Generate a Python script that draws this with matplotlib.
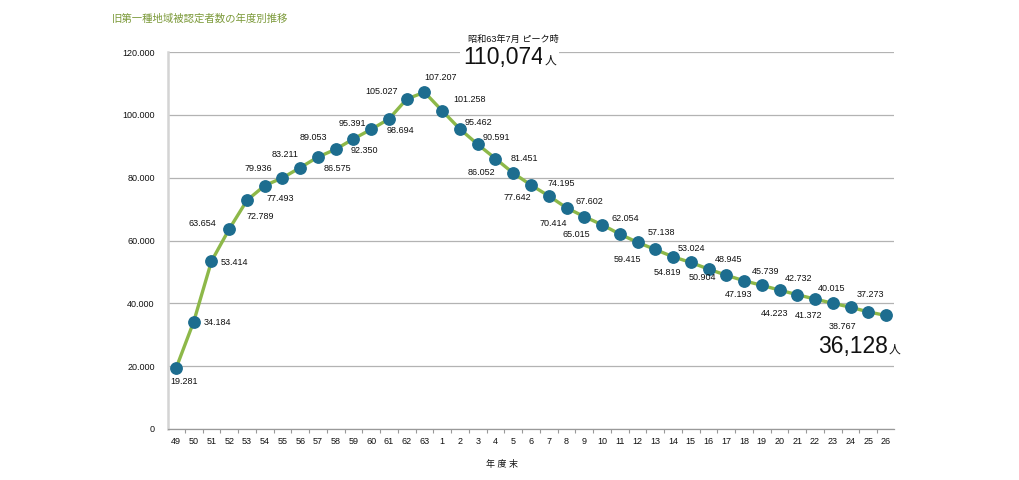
import matplotlib
matplotlib.use("Agg")
import matplotlib.pyplot as plt
from matplotlib.ticker import FuncFormatter, FixedLocator

plt.rcParams['font.family'] = ['Liberation Sans', 'Noto Sans CJK JP', 'DejaVu Sans']

# ---- data ----
years = ["49", "50", "51", "52", "53", "54", "55", "56", "57", "58", "59", "60", "61", "62", "63",
         "1", "2", "3", "4", "5", "6", "7", "8", "9", "10", "11", "12", "13", "14", "15",
         "16", "17", "18", "19", "20", "21", "22", "23", "24", "25", "26"]
counts = [19281, 34184, 53414, 63654, 72789, 77493, 79936, 83211, 86575, 89053, 92350, 95391,
          98694, 105027, 107207, 101258, 95462, 90591, 86052, 81451, 77642, 74195, 70414,
          67602, 65015, 62054, 59415, 57138, 54819, 53024, 50904, 48945, 47193, 45739, 44223,
          42732, 41372, 40015, 38767, 37273, 36128]
title = "旧第一種地域被認定者数の年度別推移"
xlabel = "年 度 末"
peak_note = "昭和63年7月 ピーク時"
peak_value = "110,074"
last_value = "36,128"
unit = "人"

# label offsets in pixels (dx right, dy down) relative to each point; None = no label
label_offsets = [(8, 13), (24, 1), (23, 1), (-27, -6), (13, 16), (16, 13), (-24, -9), (-15, -13),
                 (19, 11), (-22, -12), (11, 12), (-19, -6), (11, 12), (-25, -8), (16, -15),
                 (27, -11), (18, -7), (19, -7), (-14, 14), (11, -15), (-14, 12), (13, -12),
                 (-13, 16), (5, -15), (-26, 10), (6, -16), (-10, 17), (6, -17), (-6, 16),
                 (1, -14), (-6, 8), (2, -16), (-5, 14), (4, -14), (-5, 23), (1, -16), (-6, 16),
                 (-1, -15), (-8, 19), (2, -17), None]

W, H = 1020, 480
fig = plt.figure(figsize=(W / 100, H / 100), dpi=100)
ax = fig.add_axes([168 / W, 1 - 429 / H, (894 - 168) / W, (429 - 52) / H])

x = list(range(len(years)))
ax.plot(x, counts, color='#8db849', linewidth=2.4, zorder=3, solid_joinstyle='round')
ax.plot(x, counts, linestyle='none', marker='o', markersize=8.2, markerfacecolor='#1d6d8f',
        markeredgecolor='#1d6d8f', zorder=4)

ax.set_xlim(-0.45, len(years) - 0.55)
ax.set_ylim(0, 120000)

# grid
ax.set_yticks(range(0, 120001, 20000))
ax.yaxis.set_major_formatter(FuncFormatter(lambda v, p: "0" if v == 0 else f"{int(v):,}".replace(",", ".")))
ax.grid(axis='y', color='#b3b3b3', linewidth=0.9, zorder=1)
ax.tick_params(axis='y', length=0, pad=9.5, labelsize=6.5, labelcolor='#111111')

# x ticks: marks at boundaries, labels at centers
ax.xaxis.set_major_locator(FixedLocator([i + 0.5 for i in range(len(years))]))
ax.xaxis.set_minor_locator(FixedLocator(x))
ax.set_xticklabels([""] * len(years))
ax.set_xticklabels(years, minor=True)
ax.tick_params(axis='x', which='major', direction='out', length=3, width=0.8, color='#999999')
ax.tick_params(axis='x', which='minor', length=0, pad=6, labelsize=6.5, labelcolor='#111111')

for s in ['top', 'right']:
    ax.spines[s].set_visible(False)
ax.spines['left'].set_color('#d4d4d4')
ax.spines['left'].set_linewidth(1.8)
ax.spines['bottom'].set_color('#999999')
ax.spines['bottom'].set_linewidth(0.9)

# data labels
for xi, v, off in zip(x, counts, label_offsets):
    if off is None:
        continue
    ax.annotate(f"{v:,}".replace(",", "."), (xi, v), xytext=(off[0], -off[1]),
                textcoords='offset pixels', ha='center', va='center', fontsize=6.5,
                color='#111111', zorder=5)

# title and annotations
fig.text(112 / W, 1 - 19 / H, title, color='#7c9a3a', fontsize=7.5, ha='left', va='center')
fig.text(513 / W, 1 - 39 / H, peak_note, fontsize=6.6, ha='center', va='center', color='#111111')

renderer = fig.canvas.get_renderer()


def big_value(xpix, ybase, txt, white=False):
    kw = dict(bbox=dict(facecolor='white', edgecolor='none', pad=2)) if white else {}
    t = fig.text(xpix / W, 1 - ybase / H, txt, fontsize=16.5, ha='left', va='baseline',
                 color='#111111', **kw)
    t.set_bbox(None) if not white else None
    ext = t.get_window_extent(renderer=renderer)
    u = fig.text((ext.x1 + 1) / W, 1 - ybase / H, unit, fontsize=8.5, ha='left', va='baseline',
                 color='#111111')
    if white:
        u.set_bbox(dict(facecolor='white', edgecolor='none', pad=2))


big_value(463, 64, peak_value, white=True)
big_value(818, 353, last_value)

fig.text(502 / W, 1 - 465 / H, xlabel, fontsize=6.5, ha='center', va='center', color='#111111')

fig.savefig("out.png", dpi=100, facecolor='white')
